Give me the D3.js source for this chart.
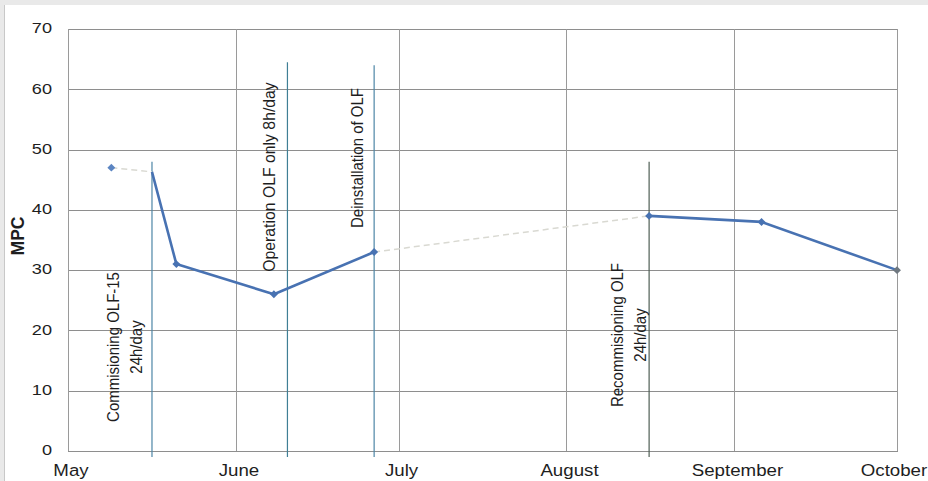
<!DOCTYPE html>
<html>
<head>
<meta charset="utf-8">
<script src="https://cdn.jsdelivr.net/npm/d3@7"></script>
<style>
  html, body { margin: 0; padding: 0; background: #e9e9e9; }
  svg { display: block; }
  text { font-family: "Liberation Sans", Arial, sans-serif; fill: #1e1e1e; }
</style>
</head>
<body>
<svg id="chart" width="928" height="481"></svg>
<script>
// month ticks on the date axis
var monthTicks = ["2013-05-01", "2013-06-01", "2013-07-01", "2013-08-01", "2013-09-01", "2013-10-01"];
var monthLabels = ["May", "June", "July", "August", "September", "October"];
var yTicks = [0, 10, 20, 30, 40, 50, 60, 70];

// measurements (MPC)
var sampleDates = ["2013-05-09", "2013-05-21", "2013-06-08", "2013-06-26T12:00", "2013-08-16T06:00", "2013-09-06", "2013-10-01"];
var mpcValues = [47, 31, 26, 33, 39, 38, 30];

// solid line = OLF running, dashed = OLF off
var runStartDates = ["2013-05-16T12:00"];
var runStartValues = [46.3];

// vertical event lines + labels
var eventDates = ["2013-05-16T12:00", "2013-06-10T12:00", "2013-06-26T12:00", "2013-08-16T06:00"];
var eventTops = [48, 64.5, 64, 48];
var eventLabels = [
  ["Commisioning OLF-15", "24h/day"],
  ["Operation OLF only 8h/day"],
  ["Deinstallation of OLF"],
  ["Recommisioning OLF", "24h/day"]
];

var parse = function(s) { return new Date(s); };

var svg = d3.select('#chart');
var margin = {left: 68, right: 31, top: 29, bottom: 30};
var W = 928, H = 481;

// white page panel
svg.append('rect').attr('x', 4).attr('y', 5).attr('width', W - 4).attr('height', H - 5).attr('fill', '#fff');
svg.append('line').attr('x1', 4.5).attr('x2', 4.5).attr('y1', 5).attr('y2', H).attr('stroke', '#c8c8c8');

var x = d3.scaleTime()
  .domain([parse(monthTicks[0]), parse(monthTicks[monthTicks.length - 1])])
  .range([margin.left, W - margin.right]);
var y = d3.scaleLinear().domain([0, 70]).range([H - margin.bottom, margin.top]);

// grid
var grid = svg.append('g');
grid.selectAll('line.h').data(yTicks).enter().append('line')
  .attr('x1', margin.left).attr('x2', W - margin.right + 1)
  .attr('y1', function(d) { return Math.round(y(d)) + 0.5; })
  .attr('y2', function(d) { return Math.round(y(d)) + 0.5; })
  .attr('stroke', '#8e8e8e').attr('stroke-width', 1);
grid.selectAll('line.v').data(monthTicks).enter().append('line')
  .attr('x1', function(d) { return Math.round(x(parse(d))) + 0.5; })
  .attr('x2', function(d) { return Math.round(x(parse(d))) + 0.5; })
  .attr('y1', y(70)).attr('y2', y(0))
  .attr('stroke', '#9a9a9a').attr('stroke-width', 1);

// y axis labels (the original is a bit stretched sideways)
svg.selectAll('text.yt').data(yTicks).enter().append('text')
  .attr('transform', function(d) { return 'translate(52,' + (y(d) - 1) + ') scale(1.25,1)'; })
  .attr('dy', '0.36em').attr('text-anchor', 'end')
  .attr('font-size', 14.5)
  .text(function(d) { return d; });

svg.append('text')
  .attr('transform', 'translate(18,' + 236 + ') rotate(-90)')
  .attr('text-anchor', 'middle').attr('dy', '0.36em')
  .attr('font-size', 17.5).attr('font-weight', 'bold')
  .text('MPC');

// x axis labels (last one runs off the edge like the original)
svg.selectAll('text.xt').data(monthTicks).enter().append('text')
  .attr('transform', function(d, i) {
    var off = i == monthTicks.length - 1 ? -3 : 3;
    return 'translate(' + (x(parse(d)) + off) + ',476) scale(1.1,1)';
  })
  .attr('text-anchor', 'middle').attr('font-size', 17)
  .text(function(d, i) { return monthLabels[i]; });

// event lines
var evColors = ['#4d86a6', '#3f7f95', '#4d86a6', '#4f5f55'];
svg.selectAll('line.ev').data(eventDates).enter().append('line')
  .attr('x1', function(d) { return x(parse(d)); })
  .attr('x2', function(d) { return x(parse(d)); })
  .attr('y1', function(d, i) { return y(eventTops[i]); })
  .attr('y2', y(0) + 6)
  .attr('stroke', function(d, i) { return evColors[i]; })
  .attr('stroke-width', 1.2);

// event labels (rotated)
var labelPos = [[113, 347], [269, 177], [357, 158], [617, 335]];
eventLabels.forEach(function(lines, i) {
  lines.forEach(function(t, j) {
    var cx = labelPos[i][0] + j * 23;
    var cy = labelPos[i][1];
    svg.append('text')
      .attr('transform', 'translate(' + cx + ',' + cy + ') scale(1.1,1) rotate(-90)')
      .attr('text-anchor', 'middle').attr('dy', '0.36em')
      .attr('font-size', i == 1 ? 15.8 : 15)
      .text(t);
  });
});

// build points
var pts = sampleDates.map(function(d, i) { return {date: parse(d), v: mpcValues[i]}; });
var runStart = {date: parse(runStartDates[0]), v: runStartValues[0]};

var line = d3.line().x(function(d) { return x(d.date); }).y(function(d) { return y(d.v); });

// dashed (OLF off) segments
var offSegments = [[pts[0], runStart], [pts[3], pts[4]]];
svg.selectAll('path.off').data(offSegments).enter().append('path')
  .attr('d', line)
  .attr('fill', 'none').attr('stroke', '#d9d9d2')
  .attr('stroke-width', 1.5).attr('stroke-dasharray', '6,4');

// solid (OLF on) segments
var onSegments = [[runStart, pts[1], pts[2], pts[3]], [pts[4], pts[5], pts[6]]];
svg.selectAll('path.on').data(onSegments).enter().append('path')
  .attr('d', line)
  .attr('fill', 'none').attr('stroke', '#4872b2')
  .attr('stroke-width', 2.6).attr('stroke-linejoin', 'round');

// diamond markers
var markerColors = ['#5b85c2', '#4872b2', '#4872b2', '#4872b2', '#4872b2', '#4872b2', '#6f7880'];
svg.selectAll('path.mk').data(pts).enter().append('path')
  .attr('d', d3.symbol().type(d3.symbolDiamond2).size(40))
  .attr('transform', function(d) { return 'translate(' + x(d.date) + ',' + y(d.v) + ')'; })
  .attr('fill', function(d, i) { return markerColors[i]; });
</script>
</body>
</html>
